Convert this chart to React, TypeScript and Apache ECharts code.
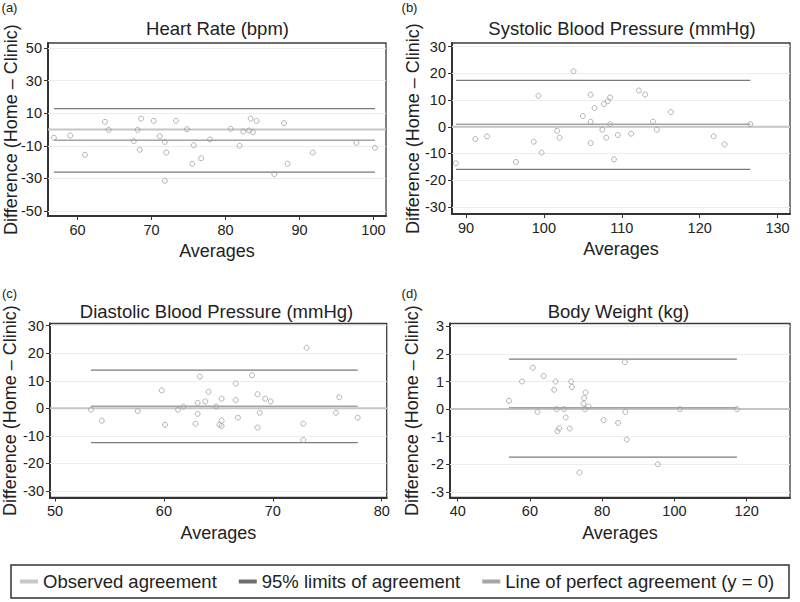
import React, { useEffect, useRef } from 'react';
import * as echarts from 'echarts';

// ---------- data ----------
const hrAvg = [56.8, 59.0, 61.0, 63.7, 64.2, 67.6, 68.1, 68.4, 68.6, 70.3, 71.1, 71.8, 72.0, 71.8, 73.3, 74.8, 75.7, 75.5, 76.7, 77.9, 80.7, 81.9, 82.4, 83.2, 83.4, 83.7, 84.2, 86.6, 87.9, 88.4, 91.8, 97.7, 100.2];
const hrDiff = [-5.1, -3.7, -15.5, 4.7, -0.2, -7.1, -0.2, -12.4, 6.7, 5.3, -4.1, -7.6, -14.1, -31.4, 5.3, 0.2, -9.6, -21.0, -17.6, -6.1, 0.4, -10.0, -1.2, -0.6, 6.7, -1.6, 5.3, -27.3, 3.9, -21.0, -14.1, -8.2, -11.2];
const hrStats = [-6.6, 12.8, -26.1]; // mean difference, upper LoA, lower LoA
const hrXTicks = [60, 70, 80, 90, 100];
const hrYTicks = [-50, -30, -10, 10, 30, 50];

const sbpAvg = [88.7, 91.2, 92.7, 96.4, 98.7, 99.3, 99.7, 101.7, 102.0, 103.8, 105.0, 106.0, 106.0, 106.0, 106.5, 107.5, 107.7, 108.0, 108.2, 108.5, 108.5, 109.0, 109.5, 111.2, 112.2, 113.0, 114.0, 114.5, 116.3, 121.8, 123.2, 126.5];
const sbpDiff = [-13.7, -4.6, -3.6, -13.2, -5.6, 11.6, -9.7, -1.5, -4.1, 20.8, 4.0, 12.0, 1.9, -6.1, 7.0, -1.1, 8.5, -4.1, 9.6, 11.0, 1.0, -12.2, -3.1, -2.6, 13.6, 12.1, 1.9, -1.1, 5.5, -3.6, -6.6, 1.0];
const sbpStats = [0.9, 17.4, -16.0];
const sbpXTicks = [90, 100, 110, 120, 130];
const sbpYTicks = [-30, -20, -10, 0, 10, 20, 30];

const dbpAvg = [53.3, 54.3, 57.6, 59.8, 60.1, 61.3, 61.8, 62.9, 63.1, 63.1, 63.3, 63.8, 64.1, 64.8, 65.1, 65.3, 65.3, 65.3, 66.6, 66.6, 66.8, 68.1, 68.6, 68.6, 68.8, 69.3, 69.8, 72.8, 72.8, 73.1, 75.8, 76.1, 77.8];
const dbpDiff = [-0.5, -4.5, -1.0, 6.5, -6.0, -0.5, 0.6, -5.6, 2.0, -2.0, 11.5, 2.5, 6.0, 0.6, -6.0, 3.5, -4.5, -6.4, 9.0, 3.0, -3.4, 12.0, 5.1, -7.0, -1.6, 3.5, 2.5, -5.6, -11.5, 22.0, -1.6, 4.0, -3.4];
const dbpStats = [0.7, 13.9, -12.5];
const dbpXTicks = [50, 60, 70, 80];
const dbpYTicks = [-30, -20, -10, 0, 10, 20, 30];

const bwAvg = [54.2, 57.8, 60.8, 62.1, 63.8, 66.7, 67.1, 67.4, 67.6, 68.1, 69.4, 69.9, 71.0, 71.4, 71.6, 73.7, 74.8, 75.0, 75.2, 75.4, 76.2, 80.4, 84.4, 86.3, 86.4, 86.8, 95.4, 101.5, 117.3];
const bwDiff = [0.3, 1.0, 1.5, -0.1, 1.2, 0.7, 1.0, 0.0, -0.8, -0.7, 0.0, -0.3, -0.7, 1.0, 0.8, -2.3, 0.2, 0.4, 0.0, 0.6, 0.1, -0.4, -0.5, 1.7, -0.1, -1.1, -2.0, 0.0, 0.0];
const bwStats = [0.05, 1.81, -1.74];
const bwXTicks = [40, 60, 80, 100, 120];
const bwYTicks = [-3, -2, -1, 0, 1, 2, 3];

const titles = ['Heart Rate (bpm)', 'Systolic Blood Pressure (mmHg)', 'Diastolic Blood Pressure (mmHg)', 'Body Weight (kg)'];
const letters = ['(a)', '(b)', '(c)', '(d)'];
const legendNames = ['Observed agreement', '95% limits of agreement', 'Line of perfect agreement (y = 0)'];
const xName = 'Averages';
const yName = 'Difference (Home \u2013 Clinic)';

// ---------- layout / style ----------
const FONT = '"Liberation Sans", Arial, Helvetica, sans-serif';
const panels = [
  { avg: hrAvg, diff: hrDiff, stats: hrStats, xTicks: hrXTicks, yTicks: hrYTicks, xRange: [56.0, 101.7], yRange: [-53, 53],
    grid: { left: 48, top: 43, width: 338, height: 173 }, nameGapY: 28, titlePos: [217.5, 28], letterPos: [9.5, 7] },
  { avg: sbpAvg, diff: sbpDiff, stats: sbpStats, xTicks: sbpXTicks, yTicks: sbpYTicks, xRange: [88.2, 131.6], yRange: [-32.7, 31.4],
    grid: { left: 452, top: 43, width: 338, height: 171 }, nameGapY: 30, titlePos: [622, 28], letterPos: [409.5, 7] },
  { avg: dbpAvg, diff: dbpDiff, stats: dbpStats, xTicks: dbpXTicks, yTicks: dbpYTicks, xRange: [49.54, 80.46], yRange: [-32.4, 30.8],
    grid: { left: 50, top: 323.5, width: 336.7, height: 174 }, nameGapY: 31, titlePos: [216.5, 311.5], letterPos: [9.5, 293] },
  { avg: bwAvg, diff: bwDiff, stats: bwStats, xTicks: bwXTicks, yTicks: bwYTicks, xRange: [37.87, 132.0], yRange: [-3.2, 3.1],
    grid: { left: 450, top: 323.5, width: 340, height: 174 }, nameGapY: 29, titlePos: [618.5, 311.5], letterPos: [409.5, 293] },
];

const C_POINT = '#a0a0a0';
const C_LOA = '#7a7a7a';
const C_MEAN = '#a4a4a4';
const C_ZERO = '#c6c6c6';
const LEG_COLORS = ['#c8c8c8', '#6e6e6e', '#a6a6a6'];
const TXT = '#222';

function buildOption() {
  const grid: any[] = [];
  const xAxis: any[] = [];
  const yAxis: any[] = [];
  const series: any[] = [];
  const graphic: any[] = [];

  panels.forEach((p, i) => {
    grid.push({ ...p.grid, show: true, borderColor: '#3c3c3c', borderWidth: 1.3, backgroundColor: 'transparent', containLabel: false, outerBoundsMode: 'none' });
    xAxis.push({
      gridIndex: i, type: 'value', min: p.xRange[0], max: p.xRange[1], position: 'bottom',
      axisLine: { show: true, onZero: false, lineStyle: { color: '#333', width: 2 } },
      axisTick: { show: true, length: 4, customValues: p.xTicks, lineStyle: { color: '#333', width: 1 } },
      axisLabel: { customValues: p.xTicks, fontSize: 14.5, color: TXT, margin: 6, fontFamily: FONT },
      splitLine: { show: false },
      name: xName, nameLocation: 'middle', nameGap: 26, nameMoveOverlap: false,
      nameTextStyle: { fontSize: 18, color: TXT, fontFamily: FONT },
    });
    yAxis.push({
      gridIndex: i, type: 'value', min: p.yRange[0], max: p.yRange[1], position: 'left',
      axisLine: { show: true, onZero: false, lineStyle: { color: '#333', width: 2 } },
      axisTick: { show: true, length: 4, customValues: p.yTicks, lineStyle: { color: '#333', width: 1 } },
      axisLabel: { customValues: p.yTicks, fontSize: 14.5, color: TXT, margin: 6, fontFamily: FONT },
      splitLine: { show: false },
      name: yName, nameLocation: 'middle', nameGap: p.nameGapY, nameRotate: 90, nameMoveOverlap: false,
      nameTextStyle: { fontSize: 18, color: TXT, fontFamily: FONT },
    });

    const xMin = Math.min(...p.avg);
    const xMax = Math.max(...p.avg);
    const [mean, up, lo] = p.stats;

    series.push({
      type: 'line', name: legendNames[2], xAxisIndex: i, yAxisIndex: i,
      data: [[p.xRange[0], 0], [p.xRange[1], 0]], symbol: 'none', silent: true,
      lineStyle: { color: C_ZERO, width: 2 }, itemStyle: { color: C_ZERO }, z: 2,
    });
    series.push({
      type: 'line', name: legendNames[1], xAxisIndex: i, yAxisIndex: i,
      data: [[xMin, up], [xMax, up]], symbol: 'none', silent: true,
      lineStyle: { color: C_LOA, width: 1.3 }, itemStyle: { color: C_LOA }, z: 3,
    });
    series.push({
      type: 'line', name: legendNames[1], xAxisIndex: i, yAxisIndex: i,
      data: [[xMin, lo], [xMax, lo]], symbol: 'none', silent: true,
      lineStyle: { color: C_LOA, width: 1.3 }, itemStyle: { color: C_LOA }, z: 3,
    });
    series.push({
      type: 'line', name: legendNames[0], xAxisIndex: i, yAxisIndex: i,
      data: [[xMin, mean], [xMax, mean]], symbol: 'none', silent: true,
      lineStyle: { color: C_MEAN, width: 1.5 }, itemStyle: { color: C_MEAN }, z: 3,
    });
    series.push({
      type: 'scatter', name: 'points ' + letters[i], xAxisIndex: i, yAxisIndex: i,
      data: p.avg.map((x, k) => [x, p.diff[k]]),
      symbol: 'circle', symbolSize: 5, silent: true,
      itemStyle: { color: 'rgba(0,0,0,0)', borderColor: C_POINT, borderWidth: 1 },
      z: 5,
      markLine: {
        silent: true, symbol: 'none', label: { show: false },
        lineStyle: { color: '#ededed', width: 1, type: 'solid' },
        data: p.yTicks.map((v) => ({ yAxis: v })),
        z: 1,
      },
    });

    graphic.push({
      type: 'text', x: p.titlePos[0], y: p.titlePos[1],
      style: { text: titles[i], fontSize: 18.5, fontFamily: FONT, fill: TXT, align: 'center', verticalAlign: 'middle' },
    });
    graphic.push({
      type: 'text', x: p.letterPos[0], y: p.letterPos[1],
      style: { text: letters[i], fontSize: 13, fontFamily: FONT, fill: TXT, align: 'center', verticalAlign: 'middle' },
    });
  });

  graphic.push({
    type: 'rect', shape: { x: 11, y: 565, width: 778, height: 33 },
    style: { fill: 'none', stroke: '#333', lineWidth: 1.5 }, silent: true,
  });

  return {
    animation: false,
    backgroundColor: '#fff',
    grid, xAxis, yAxis, series, graphic,
    legend: {
      left: 20, top: 571.5, padding: 0, itemGap: 22, itemWidth: 18, itemHeight: 4, icon: 'rect',
      selectedMode: false,
      textStyle: { fontSize: 18.5, color: TXT, fontFamily: FONT, lineHeight: 20 },
      data: legendNames.map((n, k) => ({ name: n, itemStyle: { color: LEG_COLORS[k] } })),
    },
  };
}

export default function App() {
  const ref = useRef<HTMLDivElement>(null);
  useEffect(() => {
    if (!ref.current) return;
    const chart = echarts.init(ref.current, undefined, { renderer: 'svg' });
    chart.setOption(buildOption() as any);
    return () => chart.dispose();
  }, []);
  return <div ref={ref} style={{ position: 'fixed', left: 0, top: 0, width: 800, height: 602, background: '#fff' }} />;
}
